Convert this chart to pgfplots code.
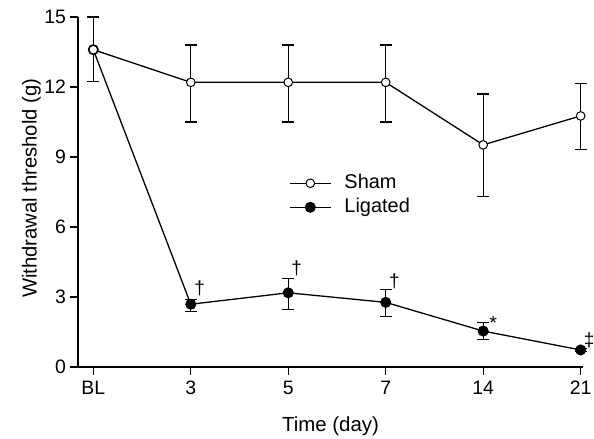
\documentclass[border=0pt]{standalone}
\usepackage{fontspec}
\setmainfont{Liberation Sans}
\usepackage{pgfplots}
\pgfplotsset{compat=1.18}

\pgfplotstableread{
x  y     ep    em
0  13.6  1.40  1.37
1  12.2  1.60  1.70
2  12.2  1.60  1.70
3  12.2  1.60  1.70
4  9.52  2.18  2.22
5  10.76 1.40  1.43
}\sham

\pgfplotstableread{
x  y     ep    em
0  13.6  1.40  1.37
1  2.69  0.21  0.33
2  3.18  0.63  0.72
3  2.77  0.54  0.60
4  1.54  0.35  0.38
5  0.73  0.07  0.07
}\ligated

\begin{document}
\begin{tikzpicture}
\useasboundingbox (-78bp,-72bp) rectangle (516bp,367bp);
\begin{axis}[
  scale only axis,
  width=505bp, height=350bp,
  xmin=-0.157, xmax=5.024,
  ymin=0, ymax=15,
  axis x line=bottom, axis y line=left,
  axis line style={-, line width=1.4bp, black},
  xtick={0,...,5},
  xticklabels={BL,3,5,7,14,21},
  ytick={0,3,...,15},
  tick align=outside,
  major tick length=7.5bp,
  tick style={line width=1.2bp, black},
  /pgf/number format/assume math mode=true,
  ticklabel style={font=\fontsize{19.5}{22}\selectfont},
  xticklabel style={yshift=-3bp},
  yticklabel style={xshift=-1bp},
  xlabel={Time (day)},
  ylabel={Withdrawal threshold (g)},
  every axis x label/.style={at={(axis description cs:0.5,-0.1857)}, anchor=base, inner sep=0pt, font=\fontsize{20.5}{23}\selectfont},
  every axis y label/.style={at={(axis description cs:-0.0733,0.5106)}, anchor=south, rotate=90, inner sep=0pt, font=\fontsize{20.3}{23}\selectfont},
  clip=false,
  reverse legend,
  legend cell align=left,
  legend image code/.code={\draw[mark repeat=2,mark phase=2] plot coordinates {(0bp,0bp)(20.5bp,0bp)(41bp,0bp)};},
  legend style={at={(axis description cs:0.4178,0.5534)}, anchor=north west, draw=none, fill=none,
    font=\fontsize{20}{23}\selectfont, inner sep=0pt, row sep=4.5bp, column sep=0bp,
    nodes={inner sep=0pt, text height=15bp, text depth=4.5bp}},
  legend style={/tikz/every odd column/.append style={column sep=13bp}},
]
\addplot[black, line width=1.3bp, mark=*, mark size=5bp, mark options={fill=black, line width=1bp},
  error bars/.cd, y dir=both, y explicit,
  error bar style={line width=1.1bp, black},
  error mark options={rotate=90, mark size=6bp, line width=1.1bp, black}]
  table[x=x, y=y, y error plus=ep, y error minus=em] {\ligated};
\addplot[black, line width=1.3bp, mark=*, mark size=4.3bp, mark options={fill=white, line width=1bp},
  error bars/.cd, y dir=both, y explicit,
  error bar style={line width=1.1bp, black},
  error mark options={rotate=90, mark size=6bp, line width=1.1bp, black}]
  table[x=x, y=y, y error plus=ep, y error minus=em] {\sham};
\legend{Ligated, Sham}

\node[anchor=base, inner sep=0pt, font=\fontsize{19}{21}\selectfont] at (axis cs:1.092,3.11) {†};
\node[anchor=base, inner sep=0pt, font=\fontsize{19}{21}\selectfont] at (axis cs:2.087,3.97) {†};
\node[anchor=base, inner sep=0pt, font=\fontsize{19}{21}\selectfont] at (axis cs:3.088,3.40) {†};
\node[anchor=base, inner sep=0pt, font=\fontsize{19}{21}\selectfont] at (axis cs:4.103,1.62) {*};
\node[anchor=base, inner sep=0pt, font=\fontsize{19}{21}\selectfont] at (axis cs:5.088,0.87) {‡};
\end{axis}
\end{tikzpicture}
\end{document}
